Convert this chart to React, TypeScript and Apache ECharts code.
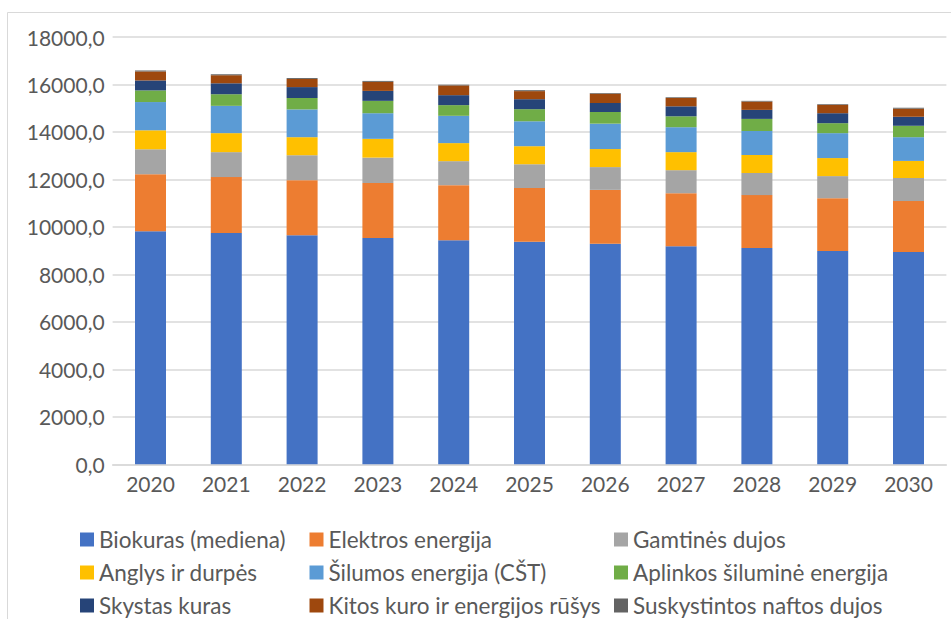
import React, { useEffect, useRef } from "react";
import * as echarts from "echarts";

const years = ["2020", "2021", "2022", "2023", "2024", "2025", "2026", "2027", "2028", "2029", "2030"];

const biokuras = [9820, 9740, 9650, 9530, 9440, 9370, 9290, 9190, 9110, 8980, 8940];
const elektros = [2400, 2360, 2320, 2320, 2320, 2270, 2270, 2230, 2230, 2230, 2150];
const gamtines = [1050, 1050, 1050, 1070, 1010, 1000, 960, 970, 930, 930, 970];
const anglys = [800, 800, 760, 790, 760, 760, 760, 760, 760, 760, 720];
const silumos = [1190, 1150, 1170, 1080, 1150, 1050, 1070, 1050, 1010, 1050, 1000];
const aplinkos = [490, 490, 480, 520, 450, 510, 490, 460, 510, 420, 480];
const skystas = [420, 460, 460, 420, 420, 420, 380, 420, 380, 420, 380];
const kitos = [380, 340, 340, 380, 410, 340, 390, 350, 350, 350, 340];
const suskystintos = [40, 40, 40, 40, 30, 40, 30, 30, 30, 30, 40];

const seriesNames = [
  "Biokuras (mediena)",
  "Elektros energija",
  "Gamtinės dujos",
  "Anglys ir durpės",
  "Šilumos energija (CŠT)",
  "Aplinkos šiluminė energija",
  "Skystas kuras",
  "Kitos kuro ir energijos rūšys",
  "Suskystintos naftos dujos",
];
const seriesData = [biokuras, elektros, gamtines, anglys, silumos, aplinkos, skystas, kitos, suskystintos];
const colors = ["#4472C4", "#ED7D31", "#A5A5A5", "#FFC000", "#5B9BD5", "#70AD47", "#264478", "#9E480E", "#636363"];

const FONT = "Lato, 'Open Sans', sans-serif";
const TEXT = "#595959";

export default function App() {
  const ref = useRef<HTMLDivElement>(null);
  useEffect(() => {
    if (!ref.current) return;
    const chart = echarts.init(ref.current, undefined, { renderer: "svg" });
    const legendCol = (idx: number[], left: number) => ({
      orient: "vertical",
      left,
      top: 528,
      width: 320,
      height: 150,
      itemWidth: 14,
      itemHeight: 14,
      itemGap: 10,
      icon: "rect",
      selectedMode: false,
      textStyle: { color: TEXT, fontSize: 22.5, fontFamily: FONT, lineHeight: 20, height: 20, padding: 0 },
      data: idx.map((i) => seriesNames[i]),
      padding: 0,
    });
    chart.setOption({
      animation: false,
      color: colors,
      graphic: [
        {
          type: "rect",
          shape: { x: 7.5, y: 12.5, width: 1000, height: 700 },
          style: { fill: "none", stroke: "#d9d9d9", lineWidth: 1 },
          silent: true,
        },
      ],
      grid: { left: 112.6, right: 4.6, top: 37, bottom: 154.7 },
      legend: [legendCol([0, 3, 6], 80), legendCol([1, 4, 7], 309.5), legendCol([2, 5, 8], 614)],
      xAxis: {
        type: "category",
        data: years,
        axisLine: { lineStyle: { color: "#d9d9d9", width: 1.5 } },
        axisTick: { show: false },
        axisLabel: { color: TEXT, fontSize: 21, fontFamily: FONT, margin: 9 },
      },
      yAxis: {
        type: "value",
        min: 0,
        max: 18000,
        interval: 2000,
        axisLine: { show: false },
        axisTick: { show: false },
        splitLine: { lineStyle: { color: "#d9d9d9", width: 1.5 } },
        axisLabel: {
          color: TEXT,
          fontSize: 21,
          fontFamily: FONT,
          margin: 8,
          formatter: (v: number) => v.toFixed(1).replace(".", ","),
        },
      },
      series: seriesNames.map((name, i) => ({
        name,
        type: "bar",
        stack: "total",
        barWidth: 31,
        data: seriesData[i],
        itemStyle: { color: colors[i] },
      })),
    });
    return () => chart.dispose();
  }, []);
  return (
    <div
      ref={ref}
      style={{ position: "fixed", left: 0, top: 0, width: 951, height: 619, background: "#fff" }}
    />
  );
}
